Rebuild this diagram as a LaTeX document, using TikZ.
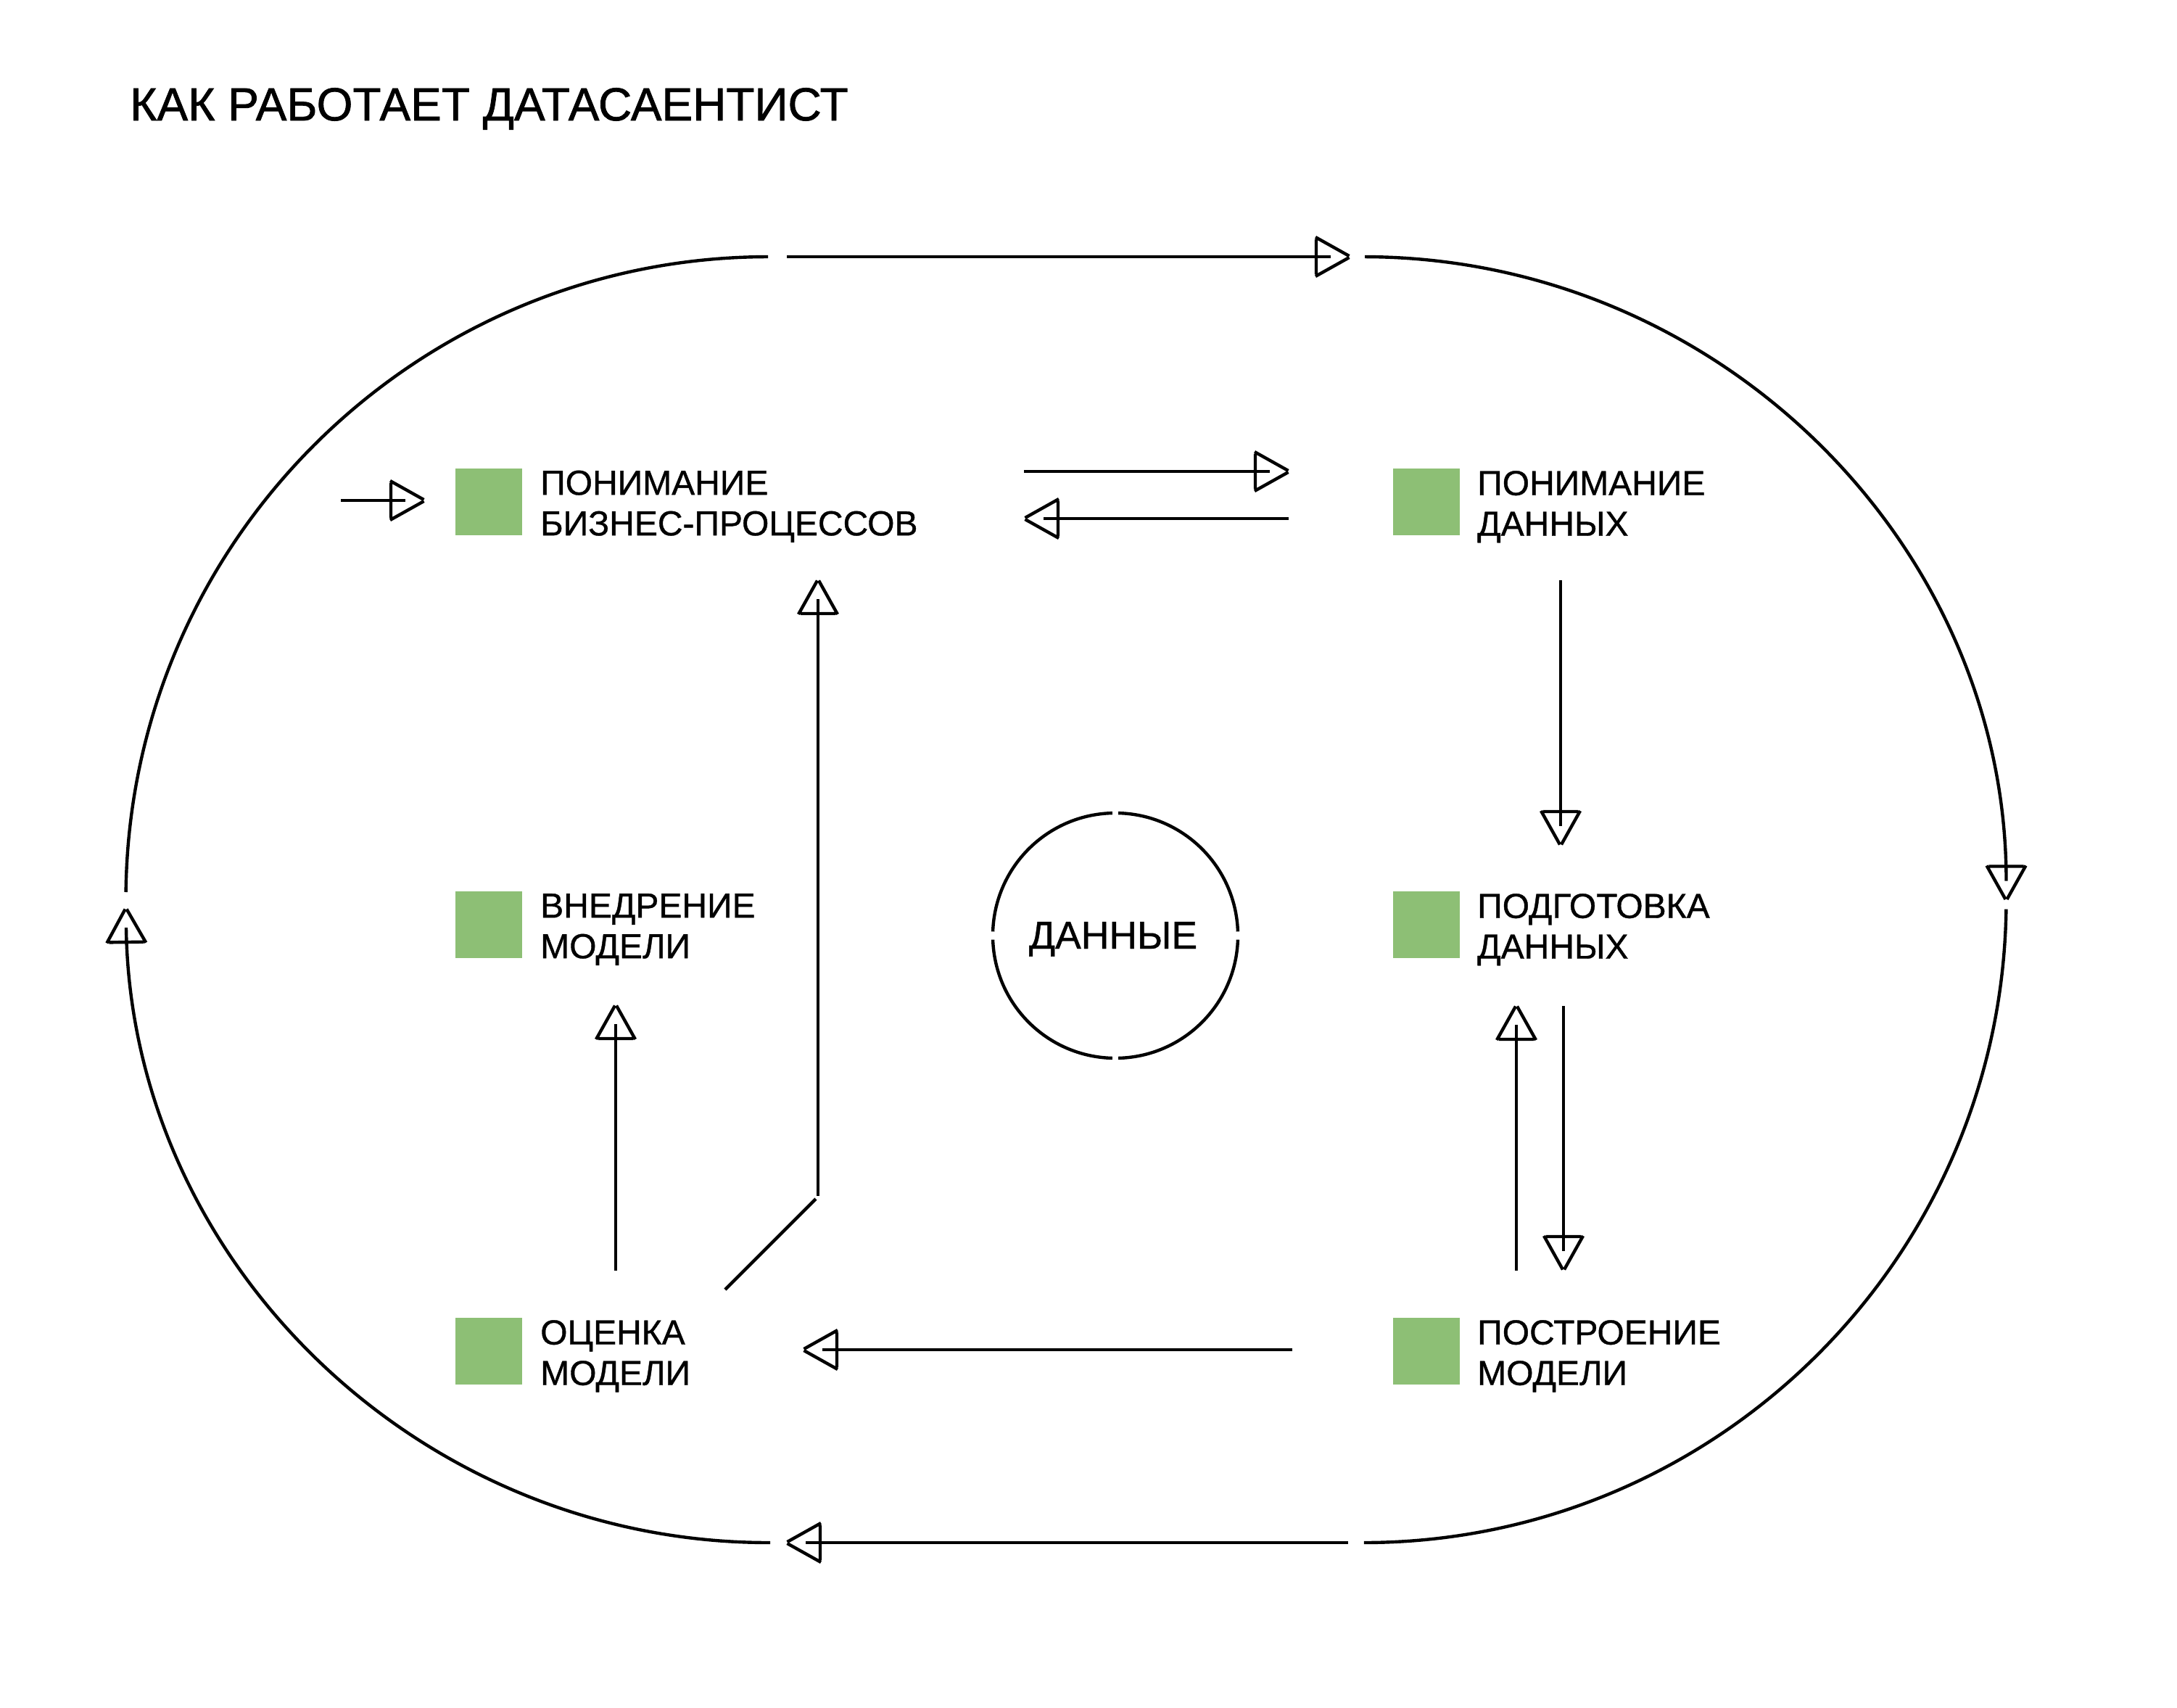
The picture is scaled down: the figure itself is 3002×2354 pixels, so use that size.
\documentclass[tikz,border=0pt]{standalone}
\usepackage{fontspec}
\setmainfont[FakeBold=0.8]{Liberation Sans}
\newfontfamily\titlefont[FakeBold=1.2]{Liberation Sans}
\usetikzlibrary{arrows.meta}
\definecolor{boxgreen}{RGB}{141,191,117}
\pgfdeclarearrow{
  name=OTri,
  setup code={
    \pgfarrowssettipend{46pt}
    \pgfarrowssetlineend{20pt}
    \pgfarrowssetbackend{-1pt}
    \pgfarrowshullpoint{46pt}{0pt}
    \pgfarrowsupperhullpoint{-1pt}{27pt}
  },
  drawing code={
    \pgfsetbuttcap
    \pgfsetdash{}{0pt}
    \pgfpathmoveto{\pgfqpoint{0pt}{-24pt}}
    \pgfpathlineto{\pgfqpoint{0pt}{24pt}}
    \pgfpathmoveto{\pgfqpoint{-1pt}{27pt}}
    \pgfpathlineto{\pgfqpoint{45.5pt}{1pt}}
    \pgfpathmoveto{\pgfqpoint{-1pt}{-27pt}}
    \pgfpathlineto{\pgfqpoint{45.5pt}{-1pt}}
    \pgfusepathqstroke
  }
}
\begin{document}
\begin{tikzpicture}[x=1pt,y=1pt, line width=4.4pt,
  sq/.style={fill=boxgreen, minimum size=92pt, inner sep=0pt, outer sep=0pt},
  lbl/.style={font=\fontsize{48}{56}\selectfont, align=left, anchor=north west, inner sep=0pt},
  arr/.style={-{OTri}}]
\useasboundingbox (0,0) rectangle (3002,-2354);

% title
\node[anchor=base west, inner sep=0pt, font=\titlefont\fontsize{64}{77}\selectfont] (title) at (177,-166) {КАК РАБОТАЕТ ДАТАСАЕНТИСТ};

% squares
\node[sq] (s1) at (674,-691.5) {};
\node[sq] (s2) at (1967,-692) {};
\node[sq] (s3) at (674,-1275) {};
\node[sq] (s4) at (1967,-1275) {};
\node[sq] (s5) at (674,-1863) {};
\node[sq] (s6) at (1967,-1863) {};

% labels
\node[lbl] (t1) at ([xshift=23pt,yshift=-1pt]s1.north east) {ПОНИМАНИЕ\\БИЗНЕС-ПРОЦЕССОВ};
\node[lbl] (t2) at ([xshift=22pt,yshift=-1pt]s2.north east) {ПОНИМАНИЕ\\ДАННЫХ};
\node[lbl] (t3) at ([xshift=23pt,yshift=-1pt]s3.north east) {ВНЕДРЕНИЕ\\МОДЕЛИ};
\node[lbl] (t4) at ([xshift=22pt,yshift=-1pt]s4.north east) {ПОДГОТОВКА\\ДАННЫХ};
\node[lbl] (t5) at ([xshift=23pt,yshift=-1pt]s5.north east) {ОЦЕНКА\\МОДЕЛИ};
\node[lbl] (t6) at ([xshift=22pt,yshift=-1pt]s6.north east) {ПОСТРОЕНИЕ\\МОДЕЛИ};

% data circle
\node[font=\fontsize{53.5}{60}\selectfont, inner sep=0pt, anchor=base] (data) at (1535,-1308) {ДАННЫЕ};
\coordinate (dc) at (1538,-1290);
\foreach \a/\b in {1.9/88.6, 91.4/178.1, 181.9/268.6, 271.4/358.1}
  \draw ([shift={(\a:169)}]dc) arc[start angle=\a, end angle=\b, radius=169];

% racetrack
\coordinate (CL) at (1060,-1240.5);
\coordinate (CR) at (1880,-1240.5);
\coordinate (topA) at (1085,-354);
\coordinate (topB) at (1861,-354);
\coordinate (botA) at (1859,-2127);
\coordinate (botB) at (1085,-2127);
\draw[arr] (topA) -- (topB);
\draw[arr] ([shift={(89.87:886.5)}]CR) arc[start angle=89.87, end angle=0, radius=886.5];
\draw ([shift={(-0.85:886.5)}]CR) arc[start angle=-0.85, end angle=-89.94, radius=886.5];
\draw[arr] (botA) -- (botB);
\draw[arr] ([shift={(270.13:886.5)}]CL) arc[start angle=270.13, end angle=180.81, radius=886.5];
\draw ([shift={(179.32:886.5)}]CL) arc[start angle=179.32, end angle=90.06, radius=886.5];

% inner connectors
\coordinate (entry) at (470,-690);
\coordinate (entryEnd) at (585,-690);
\draw[arr] (entry) -- (entryEnd);

\coordinate (a12s) at (1412,-650);
\coordinate (a12e) at (1777,-650);
\draw[arr] (a12s) -- (a12e);
\coordinate (a21s) at (1777,-715);
\coordinate (a21e) at (1413,-715);
\draw[arr] (a21s) -- (a21e);

\coordinate (a24s) at (2152,-800);
\coordinate (a24e) at (2152,-1165);
\draw[arr] (a24s) -- (a24e);

\coordinate (a46s) at (2156,-1387);
\coordinate (a46e) at (2156,-1751);
\draw[arr] (a46s) -- (a46e);
\coordinate (a64s) at (2091,-1752);
\coordinate (a64e) at (2091,-1387);
\draw[arr] (a64s) -- (a64e);

\coordinate (a65s) at (1782,-1861);
\coordinate (a65e) at (1108,-1861);
\draw[arr] (a65s) -- (a65e);

\coordinate (a53s) at (849,-1752);
\coordinate (a53e) at (849,-1386);
\draw[arr] (a53s) -- (a53e);

\coordinate (d1) at (1000,-1778);
\coordinate (d2) at (1125,-1653);
\draw (d1) -- (d2);
\coordinate (a51s) at (1128,-1649);
\coordinate (a51e) at (1128,-800);
\draw[arr] (a51s) -- (a51e);
\end{tikzpicture}
\end{document}
